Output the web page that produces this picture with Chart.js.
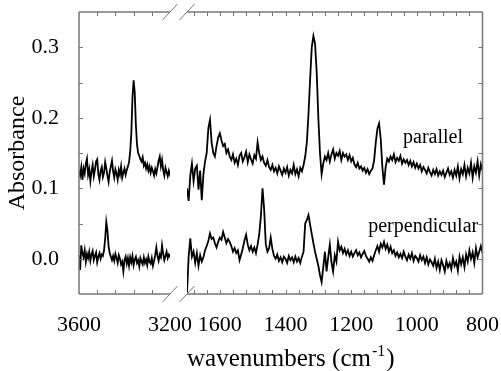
<!DOCTYPE html>
<html>
<head>
<meta charset="utf-8">
<script src="https://cdn.jsdelivr.net/npm/chart.js@4/dist/chart.umd.min.js"></script>
<style>
  html, body { margin: 0; padding: 0; background: #fff; }
  canvas { display: block; }
</style>
</head>
<body>
<canvas id="chart" width="501" height="371"></canvas>
<script>
// wavenumber grids (cm-1) of the two spectral windows
const highWavenumbers = steps(3600, 3195, 5);
const lowWavenumbers  = steps(1700, 800, 5);

// absorbance, 3600 -> 3195 cm-1
const parallelHigh = [
    .125, .118, .130, .112, .128, .121, .135, .142, .119, .127,
    .110, .124, .133, .117, .126, .138, .141, .120, .112, .125,
    .130, .116, .122, .137, .128, .118, .109, .123, .131, .139,
    .124, .115, .127, .121, .112, .126, .119, .131, .115, .122,
    .128, .119, .126, .131, .137, .152, .178, .228, .253, .236,
    .190, .162, .150, .146, .141, .138, .144, .132, .136, .128,
    .134, .125, .131, .122, .129, .124, .118, .127, .121, .130,
    .139, .145, .131, .140, .126, .118, .129, .123, .117, .125,
    .119, .122
];
const perpendicularHigh = [
    .005, -.016, .019, .008, .002, .012, -.004, .007, .001, .010,
    -.003, .006, .011, -.002, .004, .009, -.005, .003, .008, .000,
    .006, .004, .012, .028, .052, .040, .018, .008, .003, -.002,
    .004, -.003, .007, .001, -.006, .005, .000, -.008, -.004, -.018,
    -.002, .003, -.007, .001, -.010, .002, -.005, .004, -.009, -.001,
    .003, -.006, -.002, -.011, .001, -.004, -.008, .002, -.006, -.001,
    -.009, .003, -.004, -.007, .001, -.010, -.003, .005, .016, .004,
    -.003, .006, .002, .019, .007, -.002, .004, .010, .001, .006,
    .003, .005
];

// absorbance, 1700 -> 800 cm-1
const parallelLow = [
    .100, .082, .118, .135, .110, .128, .132, .098, .125, .083,
    .120, .138, .150, .185, .197, .165, .150, .145, .160, .172,
    .178, .168, .160, .163, .150, .155, .145, .140, .148, .136,
    .142, .133, .146, .150, .138, .144, .152, .137, .148, .141,
    .135, .147, .142, .165, .150, .140, .145, .136, .132, .140,
    .130, .126, .133, .124, .129, .121, .131, .125, .119, .128,
    .122, .130, .118, .126, .121, .133, .120, .127, .117, .129,
    .124, .133, .145, .165, .205, .255, .300, .316, .305, .265,
    .200, .150, .120, .135, .145, .140, .150, .138, .148, .155,
    .142, .150, .146, .153, .140, .150, .145, .148, .140, .147,
    .138, .143, .134, .130, .136, .128, .131, .125, .129, .122,
    .127, .120, .125, .128, .140, .165, .185, .192, .170, .130,
    .105, .130, .142, .138, .145, .140, .148, .137, .143, .139,
    .146, .135, .141, .136, .140, .133, .139, .131, .137, .129,
    .135, .128, .133, .124, .130, .126, .121, .129, .123, .118,
    .126, .120, .127, .118, .124, .119, .125, .116, .122, .128,
    .119, .124, .115, .126, .118, .131, .114, .127, .120, .133,
    .117, .129, .121, .136, .115, .131, .122, .138, .118, .134,
    .125
];
const perpendicularLow = [
    -.048, .003, .029, .003, .010, -.006, .008, -.010, .005, -.004,
    .002, .012, .018, .025, .036, .028, .030, .022, .016, .024,
    .030, .027, .038, .030, .022, .028, .024, .018, .010, .015,
    .008, .012, -.002, .006, .015, .026, .034, .020, .012, .018,
    .010, .016, .008, .020, .035, .060, .100, .070, .020, .010,
    .015, .030, .014, .004, .000, .006, -.003, .002, -.005, .003,
    .000, -.006, .004, -.002, .002, -.005, .003, -.004, .001, -.006,
    .003, .010, .050, .055, .062, .048, .035, .022, .010, .000,
    -.010, -.023, -.033, -.012, .010, -.018, .002, .020, -.005, -.018,
    .005, -.004, .024, .012, .017, .008, .014, .006, .012, .004,
    .010, .003, .008, .012, .005, .009, .002, .007, .011, .004,
    .000, -.004, .002, -.003, .005, .012, .018, .010, .021, .016,
    .024, .014, .020, .010, .017, .008, .012, .004, .009, .002,
    .007, .001, .010, .003, -.002, .006, .000, .008, -.003, .004,
    .001, -.004, .005, -.002, .003, -.006, .002, -.008, -.001, -.005,
    -.010, .000, -.013, -.004, -.016, -.002, -.009, -.018, -.003, -.012,
    -.006, -.015, .001, -.010, -.004, -.017, .003, -.008, .002, -.012,
    .006, -.004, .012, .000, .009, -.006, .015, .002, .010, .018,
    .008
];

// tick labels shown on the axes
const highTickLabels = [3600, 3200];
const lowTickLabels  = [1600, 1400, 1200, 1000, 800];
const absTickLabels  = [0.0, 0.1, 0.2, 0.3];

// curve labels, anchored in data coordinates of the low window
const notes = [
    {text: 'parallel',      wn: 1042, abs: 0.164},
    {text: 'perpendicular', wn: 1148, abs: 0.038}
];

const SERIF     = '"Liberation Serif", "Times New Roman", serif';
const AXIS_GREY = '#777';
const TICK_LEN  = 4;

function steps(from, to, step) {
    const out = [];
    for (let v = from; v >= to; v -= step) out.push(v);
    return out;
}

const toPoints = (xs, ys) => xs.map((x, i) => ({x, y: ys[i]}));

const line = (label, xs, ys, xAxisID) => ({
    label,
    data       : toPoints(xs, ys),
    xAxisID,
    yAxisID    : 'y',
    borderColor: '#000',
    borderWidth: 1.8,
    pointRadius: 0,
    tension    : 0,
    fill       : false
});

const fixX = s => {
    s.height       = 77;
    s.paddingLeft  = 0;
    s.paddingRight = 0;
};

const absLabel = v => {
    const hit = absTickLabels.find(l => Math.abs(l - v) < 1e-6);
    return hit === undefined ? '' : hit.toFixed(1);
};

const tickFont = {family: SERIF, size: 22};

// frame with inward ticks, axis breaks, curve labels and x title
const framePlugin = {
    id: 'frame',
    afterDraw(chart) {
        const {ctx, chartArea: area, scales} = chart;
        const {xL, xR, y} = scales;
        ctx.save();
        ctx.strokeStyle = AXIS_GREY;
        ctx.lineWidth   = 1.5;
        ctx.beginPath();
        for (const py of [area.top, area.bottom]) {
            ctx.moveTo(xL.left, py); ctx.lineTo(xL.right, py);
            ctx.moveTo(xR.left, py); ctx.lineTo(xR.right, py);
        }
        ctx.moveTo(area.left, area.top);  ctx.lineTo(area.left, area.bottom);
        ctx.moveTo(area.right, area.top); ctx.lineTo(area.right, area.bottom);
        ctx.stroke();

        ctx.lineWidth = 1;
        ctx.beginPath();
        for (const s of [xL, xR]) {
            for (const t of s.ticks) {
                const px = Math.round(s.getPixelForValue(t.value)) + 0.5;
                if (px < s.left + 2 || px > s.right - 2) continue;
                ctx.moveTo(px, area.bottom); ctx.lineTo(px, area.bottom - TICK_LEN);
                ctx.moveTo(px, area.top);    ctx.lineTo(px, area.top + TICK_LEN);
            }
        }
        for (const t of y.ticks) {
            const py = Math.round(y.getPixelForValue(t.value)) + 0.5;
            if (py < area.top + 2 || py > area.bottom - 2) continue;
            ctx.moveTo(area.left, py);  ctx.lineTo(area.left + TICK_LEN, py);
            ctx.moveTo(area.right, py); ctx.lineTo(area.right - TICK_LEN, py);
        }
        // break marks
        for (const py of [area.top, area.bottom]) {
            for (const bx of [xL.right, xR.left]) {
                ctx.moveTo(bx - 7.5, py + 8);
                ctx.lineTo(bx + 7.5, py - 8);
            }
        }
        ctx.stroke();

        ctx.fillStyle    = '#000';
        ctx.textAlign    = 'left';
        ctx.textBaseline = 'alphabetic';
        ctx.font = '20px ' + SERIF;
        notes.forEach(n => ctx.fillText(n.text, xR.getPixelForValue(n.wn), y.getPixelForValue(n.abs)));

        const base = 366;
        let tx = xR.left;
        ctx.font = '25px ' + SERIF;
        ctx.fillText('wavenumbers (cm', tx, base);
        tx += ctx.measureText('wavenumbers (cm').width + 1;
        ctx.font = '16px ' + SERIF;
        ctx.fillText('-1', tx, base - 10);
        tx += ctx.measureText('-1').width + 1;
        ctx.font = '25px ' + SERIF;
        ctx.fillText(')', tx, base);
        ctx.restore();
    }
};

new Chart(document.getElementById('chart'), {
    type: 'line',
    data: {
        datasets: [
            line('parallel',      highWavenumbers, parallelHigh,      'xL'),
            line('perpendicular', highWavenumbers, perpendicularHigh, 'xL'),
            line('parallel',      lowWavenumbers,  parallelLow,       'xR'),
            line('perpendicular', lowWavenumbers,  perpendicularLow,  'xR')
        ]
    },
    options: {
        responsive: false,
        animation : false,
        devicePixelRatio: 1,
        layout: {padding: {top: 12, right: 18.5, bottom: 0, left: 0}},
        plugins: {legend: {display: false}, tooltip: {enabled: false}},
        scales: {
            y: {
                type: 'linear', position: 'left', min: -0.05, max: 0.35,
                grid: {display: false}, border: {display: false},
                ticks: {
                    stepSize: 0.05, autoSkip: false, padding: 12, color: '#000', font: tickFont,
                    callback: absLabel
                },
                title: {display: true, text: 'Absorbance', color: '#000',
                        font: {family: SERIF, size: 24}, padding: {top: 3, bottom: 0}},
                afterFit(s) { s.width = 79; s.paddingTop = 0; s.paddingBottom = 0; }
            },
            xL: {
                type: 'linear', position: 'bottom', stack: 'x', stackWeight: 91, weight: 1,
                min: 3200, max: 3600, reverse: true,
                grid: {display: false}, border: {display: false},
                ticks: {
                    stepSize: 80, autoSkip: false, maxRotation: 0, minRotation: 0, padding: 10,
                    color: '#000', font: tickFont,
                    callback: v => highTickLabels.includes(v) ? String(v) : ''
                },
                afterFit: fixX
            },
            xGap: {
                type: 'linear', position: 'bottom', stack: 'x', stackWeight: 17, weight: 2,
                min: 0, max: 1,
                grid: {display: false}, border: {display: false}, ticks: {display: false},
                afterFit: fixX
            },
            xR: {
                type: 'linear', position: 'bottom', stack: 'x', stackWeight: 295.5, weight: 3,
                min: 800, max: 1700, reverse: true,
                grid: {display: false}, border: {display: false},
                ticks: {
                    stepSize: 40, includeBounds: false, autoSkip: false, maxRotation: 0, minRotation: 0,
                    padding: 10, color: '#000', font: tickFont,
                    callback: v => lowTickLabels.includes(v) ? String(v) : ''
                },
                afterFit: fixX
            }
        }
    },
    plugins: [framePlugin]
});
</script>
</body>
</html>
